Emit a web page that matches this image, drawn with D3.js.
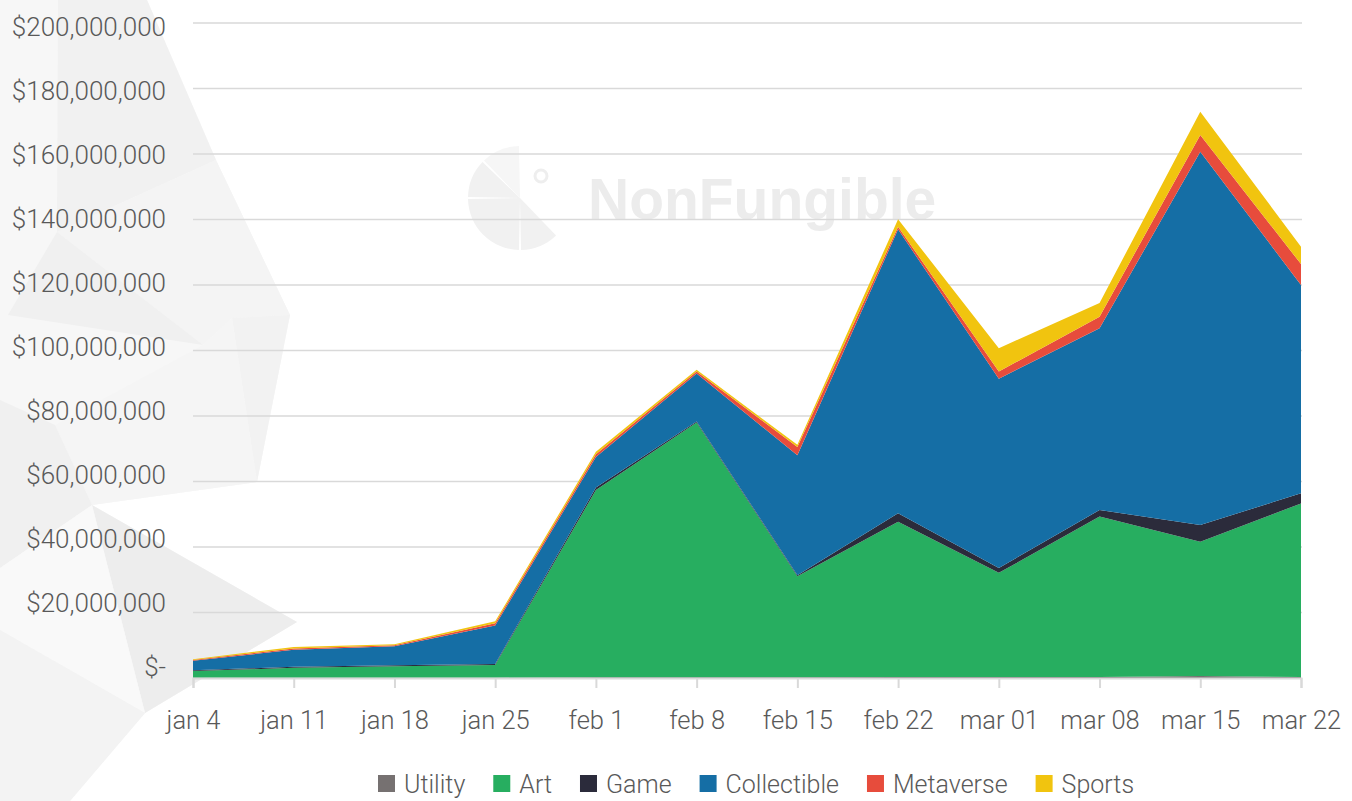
<!DOCTYPE html>
<html>
<head>
<meta charset="utf-8">
<script src="https://cdn.jsdelivr.net/npm/d3@7"></script>
<style>
body { margin: 0; background: #fff; }
svg text { font-family: Roboto, "Liberation Sans", sans-serif; font-weight: 300; fill: #595959; }
</style>
</head>
<body>
<div id="chart"></div>
<script>
// weekly NFT sales volume by category, in millions of USD
const weeks = ["jan 4", "jan 11", "jan 18", "jan 25", "feb 1", "feb 8", "feb 15", "feb 22", "mar 01", "mar 08", "mar 15", "mar 22"];
const categories = ["Utility", "Art", "Game", "Collectible", "Metaverse", "Sports"];
const utility     = [0.1, 0.1, 0.1, 0.1, 0.2, 0.2, 0.2, 0.3, 0.3, 0.3, 0.6, 0.3];
const art         = [2.0, 3.0, 3.5, 3.9, 57.2, 77.8, 30.9, 47.4, 31.8, 49.0, 41.0, 53.0];
const game        = [0.3, 0.3, 0.3, 0.3, 0.8, 0.3, 0.3, 2.6, 1.5, 2.0, 5.1, 3.1];
const collectible = [2.9, 5.2, 5.8, 11.7, 9.3, 14.7, 36.6, 86.7, 57.8, 55.5, 114.0, 63.6];
const metaverse   = [0.2, 0.4, 0.3, 0.7, 0.8, 0.6, 2.5, 0.8, 2.2, 3.5, 5.1, 6.4];
const sports      = [0.2, 0.5, 0.3, 0.6, 0.8, 0.5, 0.7, 2.3, 7.1, 4.2, 7.1, 5.3];
const yTicks = [0, 20e6, 40e6, 60e6, 80e6, 100e6, 120e6, 140e6, 160e6, 180e6, 200e6];

const colors = ["#767171", "#27ae60", "#2b2b3b", "#156ea5", "#e74c3c", "#f1c40f"];
const series = [utility, art, game, collectible, metaverse, sports];

const width = 1352, height = 801;
const margin = {top: 23, right: 51, bottom: 123, left: 193};

const svg = d3.select("#chart").append("svg")
    .attr("width", width)
    .attr("height", height);

// faint low-poly background on the left
const polys = [
    {fill: "#f7f7f7", pts: [[0,0],[147,0],[216,160],[290,315],[257,482],[92,505],[297,622],[145,713],[70,801],[0,801]]},
    {fill: "#f1f1f1", pts: [[58,0],[147,0],[216,160],[57,232]]},
    {fill: "#f4f4f4", pts: [[216,160],[290,315],[232,318],[203,345],[57,232]]},
    {fill: "#f0f0f0", pts: [[57,232],[203,345],[8,315]]},
    {fill: "#f2f2f2", pts: [[232,318],[290,315],[257,482]]},
    {fill: "#f5f5f5", pts: [[203,345],[232,318],[257,482],[92,505],[55,425]]},
    {fill: "#f0f0f0", pts: [[0,400],[55,425],[92,505],[0,568]]},
    {fill: "#ededed", pts: [[92,505],[297,622],[145,713]]},
    {fill: "#f9f9f9", pts: [[0,568],[92,505],[145,713],[0,630]]},
    {fill: "#f3f3f3", pts: [[0,630],[145,713],[70,801],[0,801]]}
];
svg.append("g").selectAll("polygon")
    .data(polys)
    .enter().append("polygon")
    .attr("fill", d => d.fill)
    .attr("points", d => d.pts.map(p => p.join(",")).join(" "));

// watermark
const wm = svg.append("g").attr("transform", "translate(520,198)");
const wedge = d3.arc().innerRadius(0).outerRadius(52).padAngle(0.04);
[[Math.PI * 0.75, Math.PI, "#f1f1f1"], [Math.PI, Math.PI * 1.5, "#f1f1f1"],
 [Math.PI * 1.5, Math.PI * 1.75, "#f1f1f1"], [Math.PI * 1.75, Math.PI * 2, "#f6f6f6"]].forEach(a => {
    wm.append("path")
      .attr("d", wedge({startAngle: a[0], endAngle: a[1]}))
      .attr("fill", a[2]);
});
wm.append("circle").attr("cx", 21).attr("cy", -22).attr("r", 6)
  .attr("fill", "none").attr("stroke", "#eeeeee").attr("stroke-width", 3);
wm.append("text")
  .attr("x", 68).attr("y", 21)
  .style("font-family", "'Liberation Sans', Arial, sans-serif")
  .style("font-weight", "bold")
  .style("font-size", "57px")
  .style("fill", "#ececec")
  .text("NonFungible");

const x = d3.scalePoint().domain(weeks).range([margin.left, width - margin.right]);
const y = d3.scaleLinear().domain([0, 200e6]).range([678, margin.top]);
// tick labels sit on a slightly tighter spacing than the grid in the original
const yLab = d3.scaleLinear().domain([0, 200e6]).range([675.5, 36]);

// gridlines
svg.append("g").selectAll("line")
    .data(yTicks.slice(1))
    .enter().append("line")
    .attr("x1", margin.left).attr("x2", width - margin.right + 1)
    .attr("y1", d => y(d)).attr("y2", d => y(d))
    .attr("stroke", "#d9d9d9").attr("stroke-width", 1.5);

// stacked areas
const rows = weeks.map((w, i) => {
    const r = {week: w};
    categories.forEach((c, j) => r[c] = series[j][i] * 1e6);
    return r;
});
const stacked = d3.stack().keys(categories)(rows);
const area = d3.area()
    .x(d => x(d.data.week))
    .y0(d => y(d[0]))
    .y1(d => y(d[1]));

svg.append("g").selectAll("path")
    .data(stacked)
    .enter().append("path")
    .attr("fill", (d, i) => colors[i])
    .attr("d", area);

// x axis
const xAxis = svg.append("g").attr("transform", "translate(0,678)")
    .call(d3.axisBottom(x).tickSize(10).tickPadding(23));
xAxis.attr("font-family", null).attr("font-size", null);
xAxis.select(".domain").attr("stroke", "#d9d9d9").attr("stroke-width", 2);
xAxis.selectAll(".tick line").attr("stroke", "#d9d9d9").attr("stroke-width", 2);
xAxis.selectAll(".tick text")
    .style("font-size", "25.5px")
    .attr("fill", "#595959");

// y labels
const fmt = d => d === 0 ? "$-" : "$" + d3.format(",")(d);
svg.append("g").selectAll("text")
    .data(yTicks)
    .enter().append("text")
    .attr("x", 166)
    .attr("y", d => yLab(d))
    .attr("text-anchor", "end")
    .style("font-size", "26px")
    .text(fmt);

// legend
const legend = svg.append("g").attr("transform", "translate(0,775)");
let lx = 378;
categories.forEach((c, i) => {
    const g = legend.append("g").attr("transform", "translate(" + lx + ",0)");
    g.append("rect").attr("width", 17).attr("height", 17).attr("fill", colors[i]);
    const t = g.append("text")
        .attr("x", 26).attr("y", 18)
        .style("font-size", "25px")
        .text(c);
    lx += 26 + t.node().getComputedTextLength() + 28;
});
</script>
</body>
</html>
